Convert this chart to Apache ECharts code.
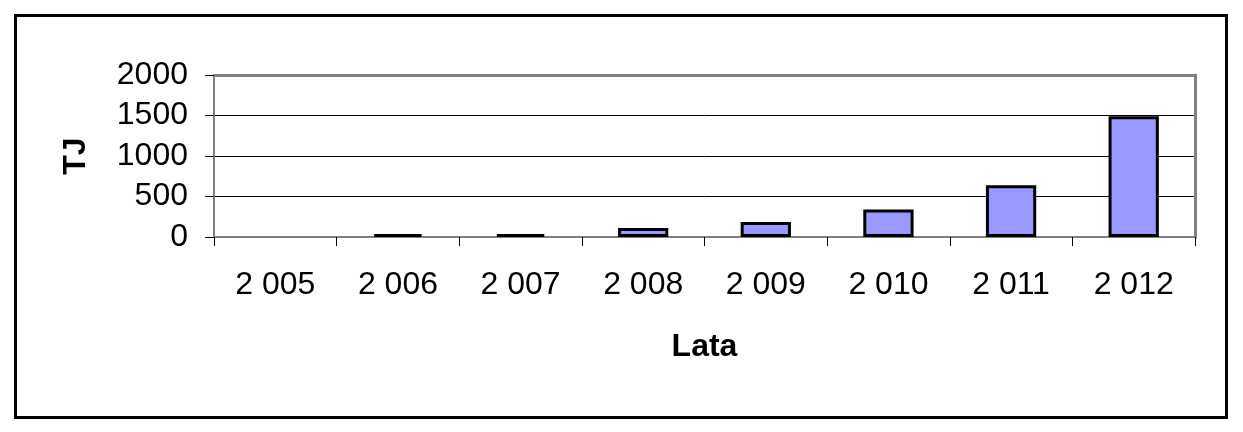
<!DOCTYPE html>
<html>
<head>
<meta charset="utf-8">
<script src="https://cdn.jsdelivr.net/npm/echarts@6/dist/echarts.min.js"></script>
<style>
  html, body { margin: 0; padding: 0; background: #fff; }
  #chart { position: absolute; left: 0; top: 0; width: 1243px; height: 432px; }
  #frame { position: absolute; left: 14px; top: 14px; width: 1208px; height: 399px; border: 3px solid #000; pointer-events: none; }
</style>
</head>
<body>
<div id="chart"></div>
<div id="frame"></div>
<script>
// Data
const categories = ['2 005', '2 006', '2 007', '2 008', '2 009', '2 010', '2 011', '2 012'];
const values = [0, 35, 35, 110, 185, 340, 640, 1490];
const yTicks = [0, 500, 1000, 1500, 2000];
const yAxisName = 'TJ';
const xAxisName = 'Lata';

const chart = echarts.init(document.getElementById('chart'));
const font = 'Arial, "Liberation Sans", sans-serif';

chart.setOption({
  animation: false,
  backgroundColor: '#fff',
  grid: { left: 214, right: 48, top: 75, bottom: 195, containLabel: false },
  xAxis: [{
    type: 'category',
    data: categories,
    boundaryGap: true,
    name: xAxisName,
    nameLocation: 'middle',
    nameGap: 94,
    nameTextStyle: { fontFamily: font, fontSize: 32, fontWeight: 'bold', color: '#000' },
    axisLine: { show: true, onZero: false, lineStyle: { color: '#808080', width: 2 } },
    axisTick: { show: true, length: 9, lineStyle: { color: '#000', width: 1 } },
    axisLabel: { fontFamily: font, fontSize: 32, color: '#000', margin: 32, interval: 0 },
    splitLine: { show: false }
  }, {
    type: 'category',
    data: categories,
    position: 'top',
    axisLine: { show: true, onZero: false, lineStyle: { color: '#808080', width: 3 } },
    axisTick: { show: false },
    axisLabel: { show: false },
    splitLine: { show: false }
  }],
  yAxis: [{
    type: 'value',
    min: yTicks[0],
    max: yTicks[yTicks.length - 1],
    interval: yTicks[1] - yTicks[0],
    name: yAxisName,
    nameLocation: 'middle',
    nameGap: 122,
    nameTextStyle: { fontFamily: font, fontSize: 32, fontWeight: 'bold', color: '#000' },
    axisLine: { show: true, onZero: false, lineStyle: { color: '#808080', width: 2 } },
    axisTick: { show: true, length: 9, lineStyle: { color: '#000', width: 1 } },
    axisLabel: { fontFamily: font, fontSize: 32, color: '#000', margin: 26, formatter: v => String(v) },
    splitLine: { show: true, lineStyle: { color: ['#000', '#000', '#000', '#000', 'rgba(0,0,0,0)'], width: 1 } }
  }, {
    type: 'value',
    position: 'right',
    min: yTicks[0],
    max: yTicks[yTicks.length - 1],
    interval: yTicks[1] - yTicks[0],
    axisLine: { show: true, onZero: false, lineStyle: { color: '#808080', width: 3 } },
    axisTick: { show: false },
    axisLabel: { show: false },
    splitLine: { show: false }
  }],
  series: [{
    type: 'bar',
    data: values.map(v => (v === 0 ? null : v)),
    xAxisIndex: 0,
    yAxisIndex: 0,
    barWidth: '41%',
    itemStyle: { color: '#9999FF', borderColor: '#000', borderWidth: 3 }
  }]
});
</script>
</body>
</html>
